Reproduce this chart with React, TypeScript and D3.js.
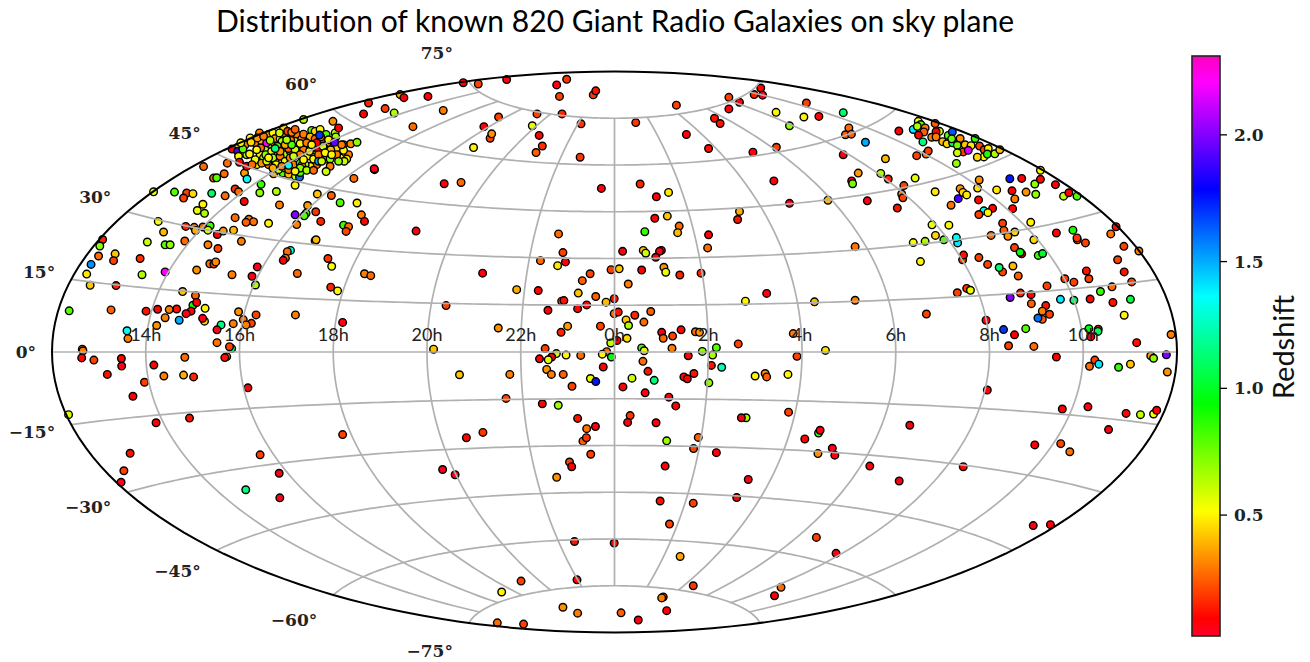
import React from "react";
import * as d3 from "d3";

type G = [number, number, number];
// Each galaxy: [Aitoff plane x in degrees, Aitoff plane y in degrees, redshift]
const westField: G[] = [
[-147.5,51.4,.55],[-140.8,51.3,.8],[-136.9,51,.2],[-134.9,50.8,.45],[-137.9,49.4,.2],[-128.9,50.9,1.1],[-124.6,50.1,.27],[-128.3,55.8,.27],[-127.3,55.9,.8],[-124.9,57.2,.27],[-118.4,57.4,.35],[-117.6,55.5,1.35],[-113.1,53.8,.85],[-113.5,51.1,.7],[-121.4,52.3,.18],[-120.3,51.4,.27],[-118.5,48.3,.1],[-108.2,51.5,.65],[-109.1,57.2,.4],[-106.1,57.4,.8],[-104.3,57,.4],[-102.1,56.4,.6],[-100.8,56.1,1.6],[-102.2,53.5,.5],[-95.1,50.7,.42],[-90.6,50.2,.25],[-87.8,47.9,.8],[-82.4,47.8,.48],[-83.4,55.7,.27],[-76.8,58.5,.08],[-107.2,47.2,.3],[-98.2,47,.35],[-131.7,47.4,.5],[-133.5,45.4,.55],[-131.2,44.5,.65],[-95.6,45,.18],[-98.7,44.5,.85],[-99.3,43.7,.8],[-102.2,44,2.0],[-94,41.9,.15],[-101.7,40.9,.3],[-121.4,43.1,.27],[-117,42.6,.3],[-117.9,41.6,.25],[-115.5,41.8,.28],[-110.7,41.3,.5],[-81,44,.3],[-80,41.9,.1],[-86.7,40.7,.85],[-85.1,40.2,.27],[-85.9,38.7,.2],[-146,41.9,.52],[-144.3,38.5,.4],[-137.2,40.3,.15],[-134.5,40,.3],[-134.1,39,.38],[-131.7,40.1,.27],[-129.4,40.5,.85],[-130.1,39.1,.58],[-127.1,37.7,.08],[-125.2,38.8,.35],[-121.9,39.1,.4],[-163.8,36.1,.15],[-164.7,34,.7],[-149.5,35.3,.6],[-143.8,34.4,.8],[-142.2,34.4,.7],[-137.5,35.6,.27],[-130.1,34.4,.3],[-126.9,33.2,.2],[-119.4,35.5,.3],[-95.8,35.7,.3],[-95.5,36,.4],[-103.7,32.6,1.3],[-104.7,32.2,.27],[-105.3,30.1,.28],[-106,29.4,.08],[-159.8,31.5,.42],[-165.1,30.8,.27],[-160.3,29.3,.2],[-151.8,30,.17],[-167.5,28.1,1.55],[-168.9,25,.48],[-167.8,21.4,.42],[-159.5,21.3,.15],[-151.2,24.8,.65],[-143.8,25.7,2.2],[-133.7,26.3,.33],[-129.5,28.3,.27],[-128.2,28.2,.2],[-127.6,28.9,.32],[-122.4,24.8,.3],[-114.3,27.3,.05],[-116,24.3,.06],[-114.9,21.5,.65],[-101.5,25.2,.27],[-91.7,30,.18],[-90.5,27.5,.52],[-80,25.1,.3],[-78,24.5,.27],[-90.8,20.8,.15],[-88.6,19.6,.5],[-138.2,19.4,.42],[-134.1,18.1,.25],[-134.9,15,.9],[-133.7,15.9,.08],[-131,14,.5],[-135.5,13.1,.08],[-137.1,12.3,.06],[-140.1,13.8,.12],[-142.5,13.6,.3],[-146.2,13.7,.1],[-149.9,13.1,.12],[-143.8,11,.3],[-139.3,10.2,1.5],[-131.2,9.9,.45],[-131.8,10.8,.05],[-161.1,13.5,.25],[-174.5,13.2,.8],[-125.9,8.7,1.15],[-122,9.1,.3],[-120.3,12.9,.33],[-118.8,10.4,.28],[-114.7,11.9,.2],[-116.2,9.2,.2],[-117.9,8.7,.3],[-102.1,11.9,.3],[-87,9.5,.05],[-146.5,8.5,.33],[-156,6.8,1.35],[-155.7,4.3,.3],[-127.2,7.1,.05],[-127.2,3,.28],[-122.5,1.1,1.15],[-123.2,1.7,.2],[-170.3,.9,.3]
];
const clusterFill: G[] = [
[-116.6,68.7,.5],[-115,67.1,.3],[-112.9,67.6,.38],[-113.6,70.3,.3],[-110.7,66,.65],[-108.9,67.1,.3],[-111.8,64.9,.65],[-113.4,63.3,.5],[-110.7,60.1,.3],[-108,63.9,.5],[-105.7,63.3,.65],[-105.9,69.8,.3],[-103.8,69.2,.2],[-101.7,69.8,.3],[-102.2,67.6,.65],[-99,66,.38],[-96.3,64.9,.65],[-95.3,65.5,.38],[-93.7,67.6,.3],[-90.5,67.1,.5],[-89.4,70.3,.65],[-92.1,66.5,.38],[-86.7,66.5,.3],[-85.1,63.3,.3],[-87.8,62.3,.5],[-92.3,61.9,.65],[-95.3,60.1,.3],[-97.4,59.6,.5],[-99,60.1,.65],[-103.3,59,.65],[-105.4,59,.5],[-107.5,58.5,.65],[-108.6,61.2,.5],[-112.3,62.3,.65],[-114.5,60.1,.5],[-117.7,63.3,.65],[-118.2,66.5,.3],[-120.9,65.5,.5],[-103.8,64.4,.3],[-101.1,64.9,.65],[-99.5,64.9,.3],[-98.5,62.8,.5],[-104.3,58.5,.3],[-102.2,59,.3],[-100.6,57.6,.8],[-89.9,65.5,.5],[-92.1,64.9,.3],[-93.3,62.3,.3],[-94.7,64.9,.08]
];
const northWestCluster: G[] = [
[-131.5,59.5,.27],[-123.9,60.6,.27],[-122.4,65.1,.08],[-120.6,64.4,1.9],[-120.3,62.8,.5],[-120,60.9,.08],[-117.7,59.6,.08],[-118.9,65.1,.8],[-119.6,67.1,.5],[-116.3,67.3,.45],[-114.3,68.7,.35],[-113.2,65.5,.27],[-111.3,67.1,2.2],[-110.7,69.8,.4],[-112.3,69.2,.3],[-109.3,70.3,.5],[-108.6,68.5,.35],[-107,68.4,.6],[-105.9,71.9,.45],[-107.2,70.3,.6],[-104.6,70.8,.2],[-103.3,70.5,.3],[-102.2,71.4,.25],[-100.1,68.4,.28],[-99.5,69.9,.3],[-96.9,71.1,.8],[-95.8,70.8,.45],[-94.2,71.4,.5],[-92.3,69.8,.8],[-89.2,69,.65],[-97.4,69,.4],[-95.8,68.4,.27],[-94,69,.3],[-100.6,66.9,.5],[-103.6,67.9,.3],[-104.3,65.3,.25],[-106.4,67.6,.65],[-107.9,66,.8],[-110.2,67.9,.65],[-111.6,63.3,.7],[-109.7,64.4,.5],[-115,61.7,.55],[-116.8,63.5,.5],[-112.9,60.6,.33],[-111.3,61.2,.6],[-109.3,62.3,.65],[-108.3,60.1,.5],[-107,62.8,.3],[-105.4,61.2,.5],[-103.8,62.3,.3],[-106.5,59.6,.3],[-102.7,60.1,.3],[-100.6,60.6,.85],[-100.1,59.8,.33],[-109.3,59,.38],[-102.2,64.9,.6],[-100.6,63.3,.3],[-99.5,61.7,.5],[-96.3,61.9,.5],[-94.7,63.3,.3],[-97.6,64.4,.48],[-93.3,66,.6],[-91.5,68.1,.5],[-88.9,65.5,.45],[-90.8,64.9,.4],[-92.6,63.9,.5],[-94.7,61.2,1.5],[-91,61.9,.7],[-88.9,63.3,.3],[-86.7,64.7,.5],[-84.4,66.8,.33],[-82.4,67.3,.7],[-85.7,61.9,.5],[-86.5,61.2,.6],[-88.3,61.2,.7],[-91,59.6,.3],[-95.3,67.1,.08],[-105.4,66.5,.38],[-103.3,66.5,.8],[-100.6,59,.7],[-102.2,58,.5],[-98.5,58.3,.65],[-96.3,58.3,.27],[-92.3,57.9,.6],[-114.5,64.9,.5],[-116,60.1,.27],[-107,64.4,.33],[-110.7,62.3,.5],[-102.7,62.8,.6],[-98.5,67.1,.3],[-93.7,61.2,.6],[-90.5,63.3,.5],[-87.3,66.5,.3],[-96.9,66.5,.5],[-104.9,68.1,.65],[-89.6,67.3,1.95],[-94.4,69.6,1.7],[-108.6,65.3,1.15],[-104.3,59.9,1.35],[-99.5,74.6,.65],[-90.1,74,.33],[-88.3,71.9,.08],[-78.7,79.9,.15],[-80.3,76.4,.08],[-73.4,78.1,.2],[-70.5,76.7,.65],[-76.9,58.8,.06],[-68.6,82.6,.38],[-67.4,81.6,.08],[-59.7,82,.08],[-64.5,72.3,.27]
];
const northCap: G[] = [
[-54.8,77.5,.3],[-48.4,86.4,.08],[-43.6,86,.2],[-34.5,87.4,.07],[-18.5,85.7,.05],[-15.3,87.5,.18],[-17.6,82,.2],[-6.8,82.5,.18],[-6,83.8,.12],[19.8,79.2,.2],[36.6,81.7,.2],[40,80.1,.08],[36.6,78,.07],[44.7,82.6,.15],[46.8,84.7,.1],[47.4,82.4,.05],[61.4,79.9,.2],[51.7,76.9,.5],[60.6,75.4,.5],[65.4,75.6,.1],[73.2,76.8,1.1],[56,72.6,.7],[75,71.9,.27],[73.9,69.7,.25],[75.8,69.9,.25],[80.3,67.3,1.5],[73.2,63.3,.05],[86.7,62,.4],[78,57.4,.35],[85.2,57.3,.65],[87.6,55.5,.15],[75.9,54.9,.06],[76.2,54,.75],[80.9,48.5,.07],[68.3,48.7,.4],[56,47.7,.05],[51,54.9,.07],[51.8,65.7,.2],[44.3,64.1,.07],[30.1,65.3,.12],[23,69.8,.07],[32,75,.12],[33.8,73.3,.12],[6.8,73.6,.18],[-10.7,73.2,.18],[-16.8,76.4,.15],[-24.8,76.4,.2],[-26.3,72.6,.55],[-24.1,69.5,.1],[-23.1,66.1,.17],[-25.1,64,.25],[-11,62.5,.18],[-37.1,75.4,.2],[-41.8,72.3,.08],[-39.8,68.6,.2],[-39.3,70,.33],[-45.1,65.6,.5],[-54.5,54,.08],[-49.1,54.4,.27],[-4.2,52.5,.06],[8.2,53.9,.15],[13.4,49.8,.07],[17.3,51.2,.48],[40,45.1,.38],[39.4,42.5,.12],[12.9,42.9,.08],[16.9,43.6,.42],[20.7,40.4,.27],[20.2,38.3,.4],[9.7,38.6,.85],[30.1,37.6,.07],[-17.9,37.9,.27],[-63.5,38.8,.07],[-42.2,25.3,.07],[-53.9,14.9,.2],[-57.9,.9,.42],[-37.2,7.7,.33]
];
const centralField: G[] = [
[29.8,33.4,.27],[15,32.6,.08],[14.4,32.3,.05],[9.2,32.6,.4],[10,31.7,.6],[13.2,30.4,.07],[2.6,32.3,.08],[-16.5,31.9,.2],[-23.7,29.3,.27],[-15.7,28.9,.08],[-18.2,27.7,.48],[-7.8,25.1,.2],[-1.1,26.4,.2],[1.5,26.7,.42],[8.7,26.3,.09],[15.8,27.2,.33],[16.4,25.6,.55],[20.9,24.7,.15],[27.7,25.3,.15],[-10.3,22.9,.25],[4.4,21.8,.3],[-31.3,20,.38],[-24.4,19.7,.1],[-11.6,18.9,.42],[-6,17.8,.25],[-.1,17.1,.1],[-2.7,16,.4],[-16.9,16.3,.27],[-16.2,16.5,.12],[-8.9,15.1,.07],[-11.8,13.9,.1],[-21.3,13.4,.08],[41.9,16.3,.5],[-.1,12.3,.27],[1.2,12.8,.12],[6.5,11.8,.15],[11.6,13,.25],[9.4,9.6,.27],[3.7,10.3,.42],[4.5,8.5,.65],[-15,8.3,.35],[-17.1,6.3,.15],[-4.5,8.3,.2],[15.1,6.3,.07],[21.3,7.1,.1],[18.6,5.1,.2],[15.6,4.4,.27],[25.9,6.5,.27],[27.2,6.3,.33],[4,4.4,.45],[.8,3.7,.08],[-1.2,2.9,.62],[39.6,2.6,.2],[-22.2,1.1,.2],[-18.6,-.5,.6],[-24,-2.2,.08],[-20.1,-1.6,.1],[-21.2,-2.5,.55],[-15.5,-1,.5],[-10.8,-1.1,.27],[-2.5,.1,.27],[-3.9,-.7,.5],[-1,-1.6,.95],[8.7,1.3,.85],[9.5,.4,.55],[18.4,1.2,.3],[23.6,-1.2,.1],[28.1,.2,.7],[31.4,-1,.65],[32.6,1.4,.8],[31,-4.3,.12],[34.3,-4.9,1.25],[9.1,-3,.27],[10.7,-6.2,.12],[12.7,-9.1,1.15],[-3.6,-4.8,.08],[-21.7,-5.6,.33],[-20.2,-7.2,.3],[-16.4,-7.2,.25],[-33.5,-7.2,.3],[-7.7,-8.5,.55],[-6,-9.5,1.75],[-13.6,-11,.2],[2.7,-11.2,.08],[5.6,-8.4,.6],[9.8,-13.1,.07],[17.4,-14.5,.08],[19.6,-17.3,.08],[22.2,-8,.1],[23.3,-8.6,.09],[25.4,-6.9,.12],[30.2,-9.9,.7],[45,-7.7,.5],[-34.7,-14.9,.2],[-23.1,-16.6,.1],[-18,-17.1,.68]
];
const southField: G[] = [
[-11.8,-21.3,.12],[-6.1,-23.9,.07],[-8.9,-24.6,.28],[-10.1,-28.6,.25],[-9,-27.5,.18],[5,-20.4,.18],[4.2,-22.6,.07],[13.3,-22.7,.07],[-42.1,-25.8,.18],[26.8,-27.4,.25],[42.1,-21.1,.65],[40.6,-21.1,.05],[55.7,-19.3,.2],[16.7,-28.5,.68],[25.3,-31,.2],[32.6,-32.3,.07],[60.9,-27.9,.1],[65.3,-26,.85],[65.8,-25.1,.06],[69.7,-30.9,.05],[65.1,-32.6,.33],[70.5,-33.1,.06],[81.7,-36.6,.06],[-7.6,-32.8,.2],[-14.4,-35.3,.2],[-13.7,-36.8,.08],[-18.5,-40.2,.33],[16.2,-36.6,.08],[42.8,-40.9,.06],[39.1,-46.7,.1],[14.6,-47.8,.12],[25.2,-48.5,.2],[17.6,-55.2,.2],[64.6,-59.5,.2],[70.9,-64.6,.06],[-12.8,-60.8,.12],[-.1,-61.3,.1],[21,-65.6,.37],[-12,-73.1,.1],[25.2,-75,.18],[53.3,-75.5,.27],[51.2,-78.2,.08],[-29.9,-73.5,.2],[-36.1,-77,.5],[15.6,-78.6,.18],[15.1,-78.9,.3],[-16.5,-81.9,.33],[-11.8,-83.8,.3],[2.1,-83.7,.25],[16.7,-83,.08],[7.6,-86,.07],[-37.5,-86.9,.27],[-29.1,-87.3,.2]
];
const southWestField: G[] = [
[-170.1,.4,.3],[-170.5,-1.9,.1],[-166.6,-2.6,.2],[-157.8,-2.1,.1],[-157.7,-4.5,.06],[-162.3,-7.2,.12],[-147.4,-4.2,.1],[-137.5,-1.7,.27],[-144.2,-7.7,.3],[-137.9,-7.4,.38],[-134.7,-8,.15],[-150.4,-9.7,.2],[-154.1,-14.2,.08],[-124.1,-1.5,.3],[-124.7,-1.8,.12],[-117.3,-11.5,.08],[-174.7,-20.1,.55],[-136,-21.2,.12],[-146.7,-22.7,.08],[-155,-32.5,.12],[-157,-38.1,.2],[-157.9,-41.8,.04],[-113.4,-33,.2],[-107.3,-38.9,.06],[-118,-44.2,1.15],[-107.1,-46.8,.04],[-87,-26.5,.2],[-49.6,-7.3,.42],[-47.4,-27.5,.1],[-55,-37.7,.06],[-51,-39.4,.05]
];
const eastField: G[] = [
[77,33.8,.28],[95.6,35.1,.52],[99.4,35.5,.65],[105.4,36,.8],[109.8,35,1.4],[97.9,29,.5],[111.4,29.6,.2],[111.7,31.1,.12],[116.6,30.3,.2],[119.4,28.1,.2],[124.2,25.7,.2],[123.1,27.1,1.1],[127.5,27.6,.4],[129.2,24.4,.25],[128,33.5,.2],[130.3,31.5,.08],[129.8,32,.95],[135.6,31,.85],[137,31.6,1],[134.2,36,.45],[148.1,36,.27],[150.7,35,.2],[163,33.9,.2],[167.8,32.4,.3],[161,29.6,.2],[151,26,.12],[163.1,25.7,.12],[144.1,23.5,.2],[147,22.4,.2],[151.8,23.5,.2],[165.5,22.5,.2],[159.2,20.9,.27],[155.5,19.4,.85],[138.4,21.2,.2],[129.9,18.9,.15],[133.3,18.4,.09],[126.6,17.5,2],[133.4,15.5,.25],[142.7,16.9,1.4],[147,16.6,1.1],[152.2,17,.1],[159.5,15.9,.12],[165.1,16.9,1.05],[138,14.9,.12],[136.9,13.1,.3],[139.2,12.1,.2],[136.9,10.5,.25],[135.5,10.9,1.6],[163.1,11.8,.5],[109.7,19,.2],[112.7,20.4,.18],[113.9,19.8,.55],[48.7,18.8,.06],[64,16.1,.4],[77,16.6,.3],[99.8,12.2,.2],[118.9,10.2,.09],[57.2,5.9,.3],[131.6,7.5,.8],[124.5,7.2,1.7],[128,5.5,.09],[126.1,2,.2],[134.2,1.8,.27],[154.8,7.3,.15],[151.8,7.5,.95],[154.7,6.6,1.1],[152.4,4.9,.06],[167.1,3,.12],[178.1,5.6,.3],[67.5,.5,.47],[58.4,-1.4,.2],[141.4,-1.6,.09],[153.7,-2.6,.2],[152,-4.6,.27],[155,-3.9,1.4],[161.3,-4.9,.85],[165.1,-3.9,.42],[171.6,-1.2,.35],[172.5,-2,.7],[176.6,-.9,2],[176.9,-6.4,.33],[48.2,-6.9,.33],[48.7,-8,.25],[55.5,-7.2,.5],[119.3,-12.2,.07],[143.3,-18.3,.08],[151.5,-17.6,.07],[163.7,-19.7,.08],[168.3,-20.1,.62],[172.5,-19.9,.52],[173.5,-18.7,.08],[158.1,-24.9,.08],[94.5,-23.5,.07],[134.5,-29.8,.08],[142.8,-29.4,.2],[145.7,-32,.28],[91.1,-41.4,.07],[111.6,-36.8,.1],[134,-55.7,.06],[139.5,-55.4,.07],
[96.2,55.8,.55],[92.6,53.4,.2],[91.9,50.7,.3],[92.3,49.5,.2],[90.5,46.2,.12],[102.6,51.4,.48],[110.6,52.4,.33],[111.5,51.2,.45],[112.7,50.4,.48],[116.2,52.6,.47],[116.7,55.2,.33],[110,49.2,1.9],[107.7,47.1,.28],[116.5,48.8,.1],[122.3,52,.48],[126.5,55.6,1.75],[130.3,55.7,.08],[134.5,53.9,.7],[136.3,55.4,.1],[136.3,58.3,.5],[127.2,51.7,.08],[128.1,49.1,.3],[131.7,51.3,.33],[134.8,50.6,.7],[141.1,53.7,.08],[143.7,50,.62],[145.4,51.1,.08],[148,50,.8],[127.4,46,.08],[121,46.1,.08],[118.2,45.3,1.35],[119.5,44.7,.5],[116.6,44.1,.2],[133.2,41.6,.5],[124.2,41.3,.2],[124.6,39,.25],[128.1,38.5,.45],[120.5,37.4,.28],[125.9,37.1,.33],[141.4,38.2,.08],[146.7,39.1,.9],[158.8,37.9,.28],[160.5,40.2,.12],[148,36.6,.18],[101.6,40.8,.55],[107,40.7,.5],[102.7,37.4,.45],[109.4,36.7,1.35]
];
const northEastCluster: G[] = [
[91,70.9,.08],[95.6,71.4,1.4],[97.2,74,.5],[98,73,.8],[96.9,72.4,.65],[99.4,71.9,.3],[99,70.6,.25],[97.3,69.6,.1],[102.6,73.3,.25],[104,70.8,.6],[102.9,70.7,.08],[101.5,68.9,.3],[102.9,69,.3],[98.7,67.4,1.15],[105,67.5,.4],[106.4,66.8,.45],[106.8,69.5,.8],[108.1,70.6,1.65],[108.2,67.1,1.1],[107.9,68.4,.75],[110.6,68.5,.33],[109.7,66.3,.75],[112.2,66.5,.42],[114.1,66.2,.48],[115.4,68.5,.85],[116.8,66.1,.2],[111.6,64.2,.2],[109.7,63.9,.6],[113.2,64.7,2.15],[118.3,64.9,.2],[119.6,65.3,.48],[118.2,62.6,.5],[119.3,63.5,.9],[116.1,62.5,.45],[121.7,63.6,.65],[123.3,64.9,.42],[109.4,60.5,.7],[99.7,63.5,.3],[100.4,64.5,.2],[96.7,63,.2]
];
const galaxies: G[] = [...westField, ...clusterFill, ...northWestCluster, ...northCap, ...centralField, ...southField, ...southWestField, ...eastField, ...northEastCluster];

const hourLabels = ["14h", "16h", "18h", "20h", "22h", "0h", "2h", "4h", "6h", "8h", "10h"];
const hourLongitudes = [-150, -120, -90, -60, -30, 0, 30, 60, 90, 120, 150];
const latitudes = [75, 60, 45, 30, 15, 0, -15, -30, -45, -60, -75];
const colorbarTicks = [0.5, 1.0, 1.5, 2.0];
const zMin = 0.023;
const zMax = 2.311;
const rainbowStops = [0, 0.03, 0.215, 0.4, 0.586, 0.77, 0.954, 1];
const rainbowColors = ["#ff0029", "#ff0000", "#ffff00", "#00ff00", "#00ffff", "#0000ff", "#ff00ff", "#ff00bf"];

const W = 1310, H = 662;
const cx = 614.5, cy = 352, halfW = 562.5, halfH = 280.5;

function aitoffRaw(l: number, p: number): [number, number] {
  const cosp = Math.cos(p);
  const a = Math.acos(cosp * Math.cos(l / 2));
  const s = a === 0 ? 1 : Math.sin(a) / a;
  return [(2 * cosp * Math.sin(l / 2)) / s, Math.sin(p) / s];
}
const project = (lon: number, lat: number) => {
  const [x, y] = aitoffRaw((lon * Math.PI) / 180, (lat * Math.PI) / 180);
  return [cx + (x * halfW) / Math.PI, cy - (y * halfH * 2) / Math.PI] as [number, number];
};
const line = d3.line<[number, number]>().x((d) => project(d[0], d[1])[0]).y((d) => project(d[0], d[1])[1]);

const planeX = d3.scaleLinear().domain([-180, 180]).range([cx - halfW, cx + halfW]);
const planeY = d3.scaleLinear().domain([-90, 90]).range([cy + halfH, cy - halfH]);
const tScale = d3.scaleLinear().domain([zMin, zMax]).range([0, 1]);
const color = d3.scaleLinear<string>().domain(rainbowStops).range(rainbowColors).interpolate(d3.interpolateRgb);
const barTop = 56, barBottom = 636, barLeft = 1192, barRight = 1220;
const barY = d3.scaleLinear().domain([zMin, zMax]).range([barBottom, barTop]);

const SERIF = "'DejaVu Serif', serif";
const SANS = "Lato, 'Open Sans', sans-serif";

export default function App() {
  const frame = d3.range(0, 361, 2).map((a) => [
    cx + halfW * Math.cos((a * Math.PI) / 180),
    cy + halfH * Math.sin((a * Math.PI) / 180),
  ]);
  const meridianLat = d3.range(-75, 75.01, 1);
  const parallelLon = d3.range(-180, 180.01, 2);
  return (
    <svg width={W} height={H} viewBox={`0 0 ${W} ${H}`} style={{ position: "absolute", left: 0, top: 0, background: "#fff" }}>
      <defs>
        <linearGradient id="cb" x1="0" x2="0" y1="1" y2="0">
          {rainbowStops.map((s, i) => (
            <stop key={i} offset={s} stopColor={rainbowColors[i]} />
          ))}
        </linearGradient>
      </defs>
      <text x={615} y={32} textAnchor="middle" fontFamily={SANS} fontSize={31} textLength={798} lengthAdjust="spacingAndGlyphs" fill="#000" style={{ fontVariantLigatures: "none" }}>
        Distribution of known 820 Giant Radio Galaxies on sky plane
      </text>
      <g>
        {galaxies.map((g, i) => (
          <circle key={i} cx={planeX(g[0])} cy={planeY(g[1])} r={3.8} fill={color(tScale(g[2]))} stroke="#000" strokeWidth={1.4} />
        ))}
      </g>
      <g fill="none" stroke="#b0b0b0" strokeWidth={1.7}>
        {hourLongitudes.map((lon) => (
          <path key={lon} d={line(meridianLat.map((lat) => [lon, lat] as [number, number])) || ""} />
        ))}
        {latitudes.map((lat) => (
          <path key={lat} d={line(parallelLon.map((lon) => [lon, lat] as [number, number])) || ""} />
        ))}
      </g>
      <path d={d3.line()(frame as [number, number][]) + "Z"} fill="none" stroke="#000" strokeWidth={2} />
      {hourLabels.map((h, i) => (
        <text key={h} x={project(hourLongitudes[i], 0)[0]} y={341} textAnchor="middle" fontFamily={SANS} fontSize={18} fill="#222">
          {h}
        </text>
      ))}
      {latitudes.map((lat) => {
        const [x, y] = project(-180, lat);
        return (
          <text key={lat} x={x - 16} y={y - 29 * Math.sin((lat * Math.PI) / 180) + 6} textAnchor="end" fontFamily={SERIF} fontWeight={700} fontSize={17} fill="#222">
            {(lat < 0 ? "\u2212" + Math.abs(lat) : String(lat)) + "\u00b0"}
          </text>
        );
      })}
      <rect x={barLeft} y={barTop} width={barRight - barLeft} height={barBottom - barTop} fill="url(#cb)" stroke="#222" strokeWidth={1.6} />
      {colorbarTicks.map((t) => (
        <g key={t}>
          <line x1={barRight} x2={barRight + 7} y1={barY(t)} y2={barY(t)} stroke="#000" strokeWidth={1.3} />
          <text x={barRight + 14} y={barY(t) + 6} fontFamily={SERIF} fontWeight={700} fontSize={17} fill="#222">
            {t.toFixed(1)}
          </text>
        </g>
      ))}
      <text transform="translate(1294,347) rotate(-90)" textAnchor="middle" fontFamily={SANS} fontSize={29} fill="#111">
        Redshift
      </text>
    </svg>
  );
}
